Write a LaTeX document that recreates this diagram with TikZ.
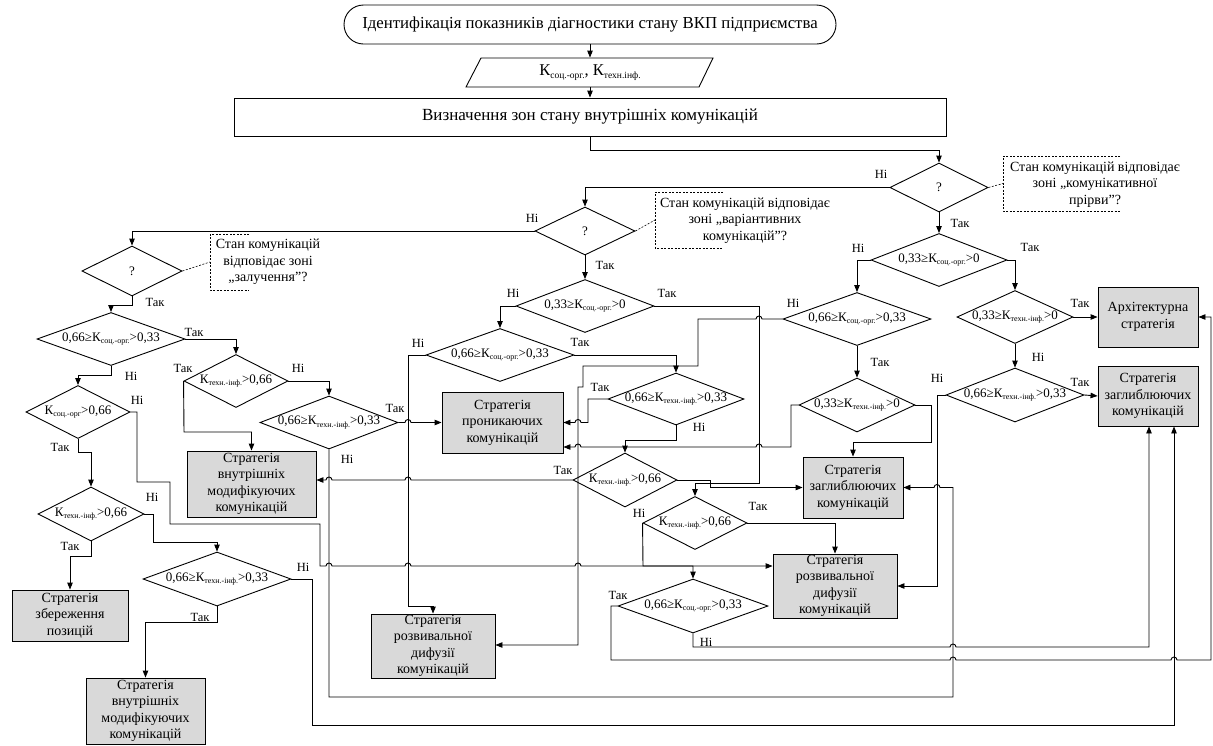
\documentclass[tikz,border=0pt]{standalone}
\usepackage{fontspec}
\setmainfont{Liberation Serif}
\usetikzlibrary{shapes.geometric,arrows.meta}
\definecolor{boxgray}{RGB}{217,217,217}
% small lowered index
\newcommand\lo[2][8]{\raisebox{-0.4ex}{\fontsize{#1}{#1}\selectfont #2}}
% line jumps on horizontal segments (rightward / leftward)
\newcommand\hr[2]{-- ({#1-3},#2) arc[start angle=180,end angle=0,radius=3pt]}
\newcommand\hl[2]{-- ({#1+3},#2) arc[start angle=0,end angle=180,radius=3pt]}

\begin{document}
\begin{tikzpicture}[x=1pt,y=-1pt,line width=0.9pt,
  arr/.style={-{Triangle[length=7pt,width=5.5pt]}},
  dm/.style n args={3}{diamond,draw,fill=white,inner sep=0pt,
    minimum width=#1pt,minimum height=#2pt,
    label={[font=\fontsize{13}{14}\selectfont,inner sep=0pt]center:{#3}}},
  box/.style 2 args={draw,fill=boxgray,align=center,inner sep=0pt,
    minimum width=#1pt,minimum height=#2pt,font=\fontsize{14}{16.5}\selectfont},
  lab/.style={font=\fontsize{12.5}{13}\selectfont,inner sep=0pt},
  note/.style={align=center,inner sep=0pt,font=\fontsize{14}{16.5}\selectfont},
  brk/.style={dash pattern=on 2pt off 1.5pt,line width=0.6pt}]
\useasboundingbox (0,0) rectangle (1213,745);

% ---- header ----
\node[draw,rounded corners=19.5pt,minimum width=492pt,minimum height=39pt,
  font=\fontsize{16.8}{19}\selectfont] (T) at (590,24.5)
  {Ідентифікація показників діагностики стану ВКП підприємства};
\draw (466,87) -- (481,58) -- (713,58) -- (699,87) -- cycle;
\node[minimum height=29pt,inner sep=0pt,font=\fontsize{16.5}{19}\selectfont] (P) at (590,72.5)
  {К\lo[9.5]{соц.-орг.}, К\lo[9.5]{техн.інф.}};
\node[draw,minimum width=712pt,minimum height=38pt,font=\fontsize{17}{19}\selectfont] (R)
  at (590,117) {Визначення зон стану внутрішніх комунікацій};

% ---- decisions ----
\node[dm={98}{49}{?}] (d1) at (939,187.5) {};
\node[dm={100}{48}{?}] (d2) at (585,231) {};
\node[dm={100}{50}{?}] (d3) at (132,271) {};
\node[dm={148}{53}{0,66≥К\lo{соц.-орг.}>0,33}] (d4) at (111,339) {};
\node[dm={104}{53}{К\lo{техн.-інф.}>0,66}] (d5) at (236,381) {};
\node[dm={138}{53}{0,66≥К\lo{техн.-інф.}>0,33}] (d6) at (329,422.5) {};
\node[dm={104}{53}{К\lo{соц.-орг}>0,66}] (d7) at (78,412) {};
\node[dm={106}{54}{К\lo{техн.-інф.}>0,66}] (d9) at (91,514) {};
\node[dm={148}{54}{0,66≥К\lo{техн.-інф.}>0,33}] (d8) at (217,579) {};
\node[dm={138}{53}{0,33≥К\lo{соц.-орг.}>0}] (m1) at (585,306) {};
\node[dm={148}{53}{0,66≥К\lo{соц.-орг.}>0,33}] (m2) at (500,355) {};
\node[dm={136}{52}{0,66≥К\lo{техн.-інф.}>0,33}] (m3) at (676,399) {};
\node[dm={104}{54}{К\lo{техн.-інф.}>0,66}] (m3b) at (625,480) {};
\node[dm={104}{53}{К\lo{техн.-інф.}>0,66}] (m5) at (695,523) {};
\node[dm={150}{54}{0,66≥К\lo{соц.-орг.}>0,33}] (m4) at (693,606) {};
\node[dm={136}{53}{0,33≥К\lo{соц.-орг.}>0}] (r1) at (939,260) {};
\node[dm={148}{53}{0,66≥К\lo{соц.-орг.}>0,33}] (r2) at (857,319) {};
\node[dm={116}{54}{0,33≥К\lo{техн.-інф.}>0}] (r3) at (857,405) {};
\node[dm={116}{53}{0,33≥К\lo{техн.-інф.}>0}] (r4) at (1015,317) {};
\node[dm={138}{54}{0,66≥К\lo{техн.-інф.}>0,33}] (r5) at (1015,395) {};

% ---- strategies ----
\node[box={129}{66}] (b1) at (251.5,484) {Стратегія\\внутрішніх\\модифікуючих\\комунікацій};
\node[box={116}{51}] (b4) at (70,615.5) {Стратегія\\збереження\\позицій};
\node[box={119}{66}] (b9) at (145.5,711) {Стратегія\\внутрішніх\\модифікуючих\\комунікацій};
\node[box={121}{61}] (b2) at (502.5,422.5) {Стратегія\\проникаючих\\комунікацій};
\node[box={124}{64}] (b3) at (433,646) {Стратегія\\розвивальної\\дифузії\\комунікацій};
\node[box={100}{61}] (b5) at (853,487.5) {Стратегія\\заглиблюючих\\комунікацій};
\node[box={124}{64}] (b6) at (835,586) {Стратегія\\розвивальної\\дифузії\\комунікацій};
\node[box={100}{60}] (b7) at (1148,317) {Архітектурна\\стратегія};
\node[box={100}{60}] (b8) at (1148,396) {Стратегія\\заглиблюючих\\комунікацій};

% ---- annotations ----
\node[note] (n1) at (1095,184.5) {Стан комунікацій відповідає\\зоні „комунікативної\\прірви”?};
\node[note] (n2) at (745,220.5) {Стан комунікацій відповідає\\зоні „варіантивних\\комунікацій”?};
\node[note] (n3) at (268,262) {Стан комунікацій\\відповідає зоні\\„залучення”?};
\coordinate (k1) at (1003,183.5);
\coordinate (k2) at (655,220);
\coordinate (k3) at (210,262);
\draw[brk] (1120,156) -- (1003,156) -- (1003,211) -- (1120,211);
\draw[brk] (723,192) -- (655,192) -- (655,248) -- (723,248);
\draw[brk] (249,234) -- (210,234) -- (210,290) -- (249,290);
\draw[brk] (d1.east) -- (k1);
\draw[brk] (d2.east) -- (k2);
\draw[brk] (d3.east) -- (k3);

% ---- flow ----
\draw[arr] (T.south) -- (P.north);
\draw[arr] (P.south) -- (R.north);
\draw[arr] (R.south) |- (939,150) -- (d1.north);
\draw[arr] (d1.south) -- (r1.north);
\draw[arr] (d1.west) -| (d2.north);
\draw[arr] (d2.west) -| (d3.north);
\draw[arr] (d2.south) -- (m1.north);

% left branch
\draw[arr] (d3.south) -- (132,305) -| (d4.north);
\draw[arr] (d4.east) -| (d5.north);
\draw[arr] (d4.south) -- (111,375) -| (d7.north);
\draw[arr] (d5.west) -- (184,432) -| (b1.north);
\draw[arr] (d5.east) -| (d6.north);
\draw[arr] (d6.east) \hr{408}{422.5} -- (b2.west);
\draw[arr] (d6.south) -- (329,697) -- (953,697) -- (953,487.5) \hl{937}{487.5} -- (b5.east);
\draw[arr] (d7.south) -- (78,452) -| (d9.north);
\draw[arr] (d7.east) -- (137,412) -- (137,482) -- (170,482) -- (170,524) -- (320,524) -- (320,566)
  \hr{329}{566} \hr{408}{566} \hr{578}{566} -- (b6.west |- 0,566);
\draw[arr] (d9.south) -- (91,556) -| (b4.north);
\draw[arr] (d9.east) -- (153,514) -- (153,542) -| (d8.north);
\draw[arr] (d8.south) -- (217,622) -| (b9.north);
\draw[arr] (d8.east) -- (312,579) -- (312,725) -- (1174,725) -- (b8.south -| 1174,0);

% middle branch
\draw[arr] (m1.west) -| (m2.north);
\draw[arr] (m1.east) -- (759,306) -- (759,483) -- (695,483) -- (m5.north);
\draw[arr] (m2.east) -| (m3.north);
\draw[arr] (m2.west) -- (408,355) -- (408,606) -| (b3.north);
\draw[arr] (m3.west) -- (588,399) -- (588,422.5) \hl{578}{422.5} -- (b2.east);
\draw[arr] (m3.south) -- (676,440) -| (m3b.north);
\draw[arr] (m3b.west) \hl{408}{480} \hl{329}{480} -- (b1.east |- 0,480);
\draw[arr] (m3b.east) -- (710,480) -- (710,487.5) -- (b5.west);
\draw[arr] (m5.west) -- (643,566) -| (m4.north);
\draw[arr] (m5.east) -| (b6.north);
\draw[arr] (m4.west) -- (611,606) -- (611,660) \hr{953}{660} \hr{1174}{660} -- (1211,660) -- (1211,317) -- (b7.east);
\draw[arr] (m4.south) -- (693,647) \hr{953}{647} -- (1149,647) -- (b8.south -| 1149,0);

% right branch
\draw[arr] (r1.west) -| (r2.north);
\draw[arr] (r1.east) -| (r4.north);
\draw[arr] (r2.south) -- (r3.north);
\draw[arr] (r2.west) \hl{759}{319} -- (698,319) -- (698,366) -- (583,366) -- (583,387) -- (578,387) -- (578,645) -- (b3.east |- 0,645);
\draw[arr] (r3.east) -- (931,405) -- (931,442) -| (b5.north);
\draw[arr] (r3.west) -- (791,405) -- (791,447) \hl{759}{447} \hl{578}{447} -- (b2.east |- 0,447);
\draw[arr] (r4.east) -- (b7.west);
\draw[arr] (r4.south) -- (r5.north);
\draw[arr] (r5.east) -- (b8.west);
\draw[arr] (r5.west) -- (937,395) -- (937,586) -- (b6.east);

% ---- branch labels ----
\node[lab] (l1) at (881,174) {Ні};
\node[lab] (l2) at (960,223) {Так};
\node[lab] (l3) at (532,218) {Ні};
\node[lab] (l4) at (605,265) {Так};
\node[lab] (l5) at (155,302) {Так};
\node[lab] (l6) at (194,332) {Так};
\node[lab] (l7) at (131,376) {Ні};
\node[lab] (l8) at (183,368) {Так};
\node[lab] (l9) at (298,368) {Ні};
\node[lab] (l10) at (395,408) {Так};
\node[lab] (l11) at (347,459) {Ні};
\node[lab] (l12) at (137,400) {Ні};
\node[lab] (l13) at (60,447) {Так};
\node[lab] (l14) at (152,497) {Ні};
\node[lab] (l15) at (70,546) {Так};
\node[lab] (l16) at (303,567) {Ні};
\node[lab] (l17) at (200,617) {Так};
\node[lab] (l18) at (513,293) {Ні};
\node[lab] (l19) at (667,293) {Так};
\node[lab] (l20) at (418,343) {Ні};
\node[lab] (l21) at (580,342) {Так};
\node[lab] (l22) at (600,387) {Так};
\node[lab] (l23) at (699,427) {Ні};
\node[lab] (l24) at (563,470) {Так};
\node[lab] (l25) at (639,513) {Ні};
\node[lab] (l26) at (758,506) {Так};
\node[lab] (l27) at (618,595) {Так};
\node[lab] (l28) at (706,642) {Ні};
\node[lab] (l29) at (858,248) {Ні};
\node[lab] (l30) at (1030,247) {Так};
\node[lab] (l31) at (793,303) {Ні};
\node[lab] (l32) at (880,362) {Так};
\node[lab] (l33) at (1080,303) {Так};
\node[lab] (l34) at (1038,357) {Ні};
\node[lab] (l35) at (1080,382) {Так};
\node[lab] (l36) at (937,378) {Ні};
\end{tikzpicture}
\end{document}
